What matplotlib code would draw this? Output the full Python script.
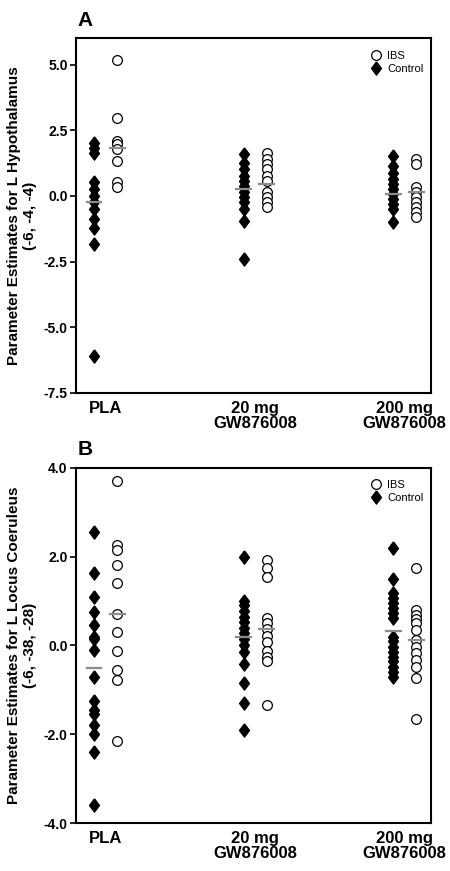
import matplotlib
matplotlib.use('Agg')
import matplotlib.pyplot as plt

plt.rcParams['font.family'] = ['Liberation Sans', 'DejaVu Sans']

groups = ['PLA', '20 mg\nGW876008', '200 mg\nGW876008']

# Panel A - L Hypothalamus (-6, -4, -4)
a_ctrl = [
    [2.0, 1.84, 1.62, 0.53, 0.28, 0.0, -0.25, -0.5, -0.89, -1.23, -1.84, -6.08],
    [1.59, 1.27, 1.02, 0.76, 0.57, 0.38, 0.13, -0.06, -0.25, -0.51, -0.95, -2.41],
    [1.52, 1.14, 0.89, 0.63, 0.44, 0.25, 0.06, -0.13, -0.32, -0.51, -1.01],
]
a_ibs = [
    [5.19, 2.98, 2.09, 1.97, 1.77, 1.33, 0.51, 0.32],
    [1.65, 1.42, 1.2, 1.02, 0.76, 0.57, 0.13, -0.06, -0.25, -0.44],
    [1.42, 1.2, 0.32, 0.13, -0.06, -0.25, -0.44, -0.63, -0.82],
]
a_ctrl_mean = [-0.25, 0.28, 0.09]
a_ibs_mean = [1.81, 0.47, 0.13]

# Panel B - L Locus Coeruleus (-6, -38, -28)
b_ctrl = [
    [2.55, 1.63, 1.1, 0.75, 0.45, 0.2, 0.15, -0.1, -0.7, -1.25, -1.45, -1.55, -1.8, -2.0, -2.4, -3.6],
    [2.0, 1.0, 0.9, 0.78, 0.65, 0.52, 0.4, 0.28, 0.15, 0.0, -0.15, -0.42, -0.85, -1.3, -1.9],
    [2.2, 1.5, 1.18, 1.06, 0.95, 0.84, 0.73, 0.61, 0.2, 0.09, -0.03, -0.14, -0.25, -0.36, -0.48, -0.59, -0.7],
]
b_ibs = [
    [3.7, 2.25, 2.15, 1.82, 1.4, 0.7, 0.3, -0.12, -0.55, -0.78, -2.15],
    [1.93, 1.74, 1.55, 0.62, 0.5, 0.36, 0.22, 0.08, -0.12, -0.25, -0.36, -1.35],
    [1.75, 0.8, 0.69, 0.6, 0.5, 0.35, 0.12, -0.03, -0.18, -0.33, -0.48, -0.74, -1.65],
]
b_ctrl_mean = [-0.5, 0.18, 0.33]
b_ibs_mean = [0.7, 0.37, 0.12]

a_ticks = [-7.5, -5.0, -2.5, 0.0, 2.5, 5.0]
b_ticks = [-4.0, -2.0, 0.0, 2.0, 4.0]

diamond = [(0, 1), (0.75, 0), (0, -1), (-0.75, 0), (0, 1)]
off = 0.077


def draw_panel(ax, ctrl, ibs, ctrl_mean, ibs_mean, ylim, ticks, ylabel, letter):
    for i in range(len(groups)):
        xc = i - off
        xi = i + off
        ax.plot([xc] * len(ctrl[i]), ctrl[i], linestyle='none', marker=diamond,
                markersize=9.5, color='black', zorder=3,
                label='Control' if i == 0 else None)
        ax.plot([xi] * len(ibs[i]), ibs[i], linestyle='none', marker='o',
                markersize=7, markerfacecolor='white', markeredgecolor='black',
                markeredgewidth=0.9, zorder=3, label='IBS' if i == 0 else None)
        # group means (grey bars)
        ax.plot([xc - 0.05, xc + 0.05], [ctrl_mean[i]] * 2, color='#8c8c8c', lw=1.6, zorder=4)
        ax.plot([xi - 0.05, xi + 0.05], [ibs_mean[i]] * 2, color='#8c8c8c', lw=1.6, zorder=4)

    ax.set_xlim(-0.197, 2.177)
    ax.set_ylim(*ylim)
    ax.set_yticks(ticks)
    ax.set_yticklabels([f'{t:.1f}' for t in ticks], fontsize=10, fontweight='bold')
    ax.set_xticks(range(len(groups)))
    ax.set_xticklabels(groups, fontsize=12, fontweight='bold', linespacing=0.95)
    ax.tick_params(axis='x', length=0, pad=6)
    ax.tick_params(axis='y', length=4, width=1.2, direction='out', pad=2)
    for s in ax.spines.values():
        s.set_linewidth(1.5)
    ax.set_ylabel(ylabel, fontsize=11, fontweight='bold', labelpad=5)
    ax.text(0.005, 1.035, letter, transform=ax.transAxes, ha='left', va='baseline',
            fontsize=15, fontweight='bold')

    handles, labels = ax.get_legend_handles_labels()
    order = [labels.index('IBS'), labels.index('Control')]
    ax.legend([handles[k] for k in order], [labels[k] for k in order],
              loc='upper right', bbox_to_anchor=(1.012, 1.0),
              frameon=False, fontsize=8, labelspacing=0.3,
              handletextpad=0.5, handlelength=1.0, borderaxespad=0.9,
              borderpad=0.2, markerscale=1.0)


fig = plt.figure(figsize=(4.5, 8.71), dpi=100)
ax1 = fig.add_axes([0.169, 0.549, 0.789, 0.407])
ax2 = fig.add_axes([0.169, 0.055, 0.789, 0.408])

draw_panel(ax1, a_ctrl, a_ibs, a_ctrl_mean, a_ibs_mean, (-7.5, 6.0), a_ticks,
           'Parameter Estimates for L Hypothalamus\n(-6, -4, -4)', 'A')
draw_panel(ax2, b_ctrl, b_ibs, b_ctrl_mean, b_ibs_mean, (-4.0, 4.0), b_ticks,
           'Parameter Estimates for L Locus Coeruleus\n(-6, -38, -28)', 'B')

fig.savefig('out.png', dpi=100)
